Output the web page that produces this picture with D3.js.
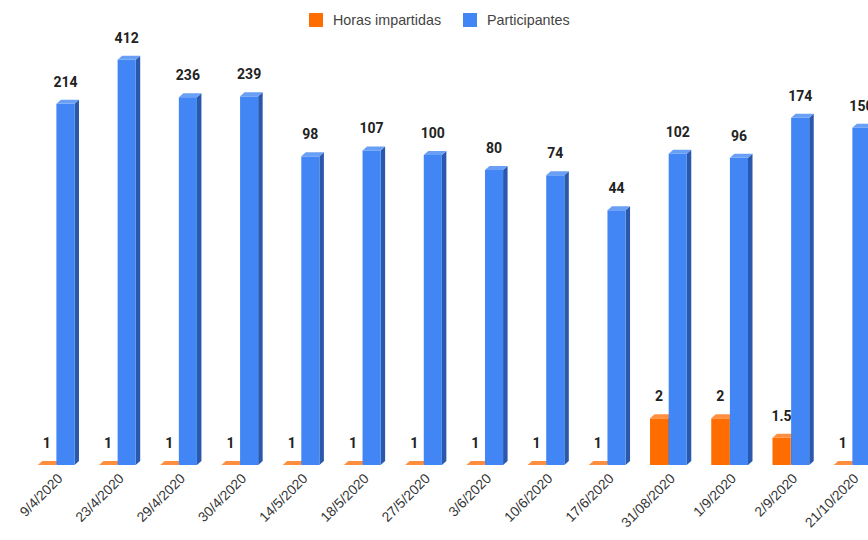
<!DOCTYPE html>
<html><head><meta charset="utf-8">
<script src="https://cdn.jsdelivr.net/npm/d3@7"></script>
<style>body{margin:0;background:#fff;}svg{display:block;}</style>
</head><body>
<svg id="c" width="868" height="540"></svg>
<script>
const categories = ["9/4/2020","23/4/2020","29/4/2020","30/4/2020","14/5/2020","18/5/2020","27/5/2020","3/6/2020","10/6/2020","17/6/2020","31/08/2020","1/9/2020","2/9/2020","21/10/2020"];
const horas = [1,1,1,1,1,1,1,1,1,1,2,2,1.5,1];
const participantes = [214,412,236,239,98,107,100,80,74,44,102,96,174,150];
const seriesNames = ["Horas impartidas","Participantes"];
const colors = {"Horas impartidas":{front:"#ff6d01",side:"#c35100",top:"#ff8f3f"},
                "Participantes":{front:"#4285f4",side:"#2a58ad",top:"#6a9ff6"}};

const svg = d3.select("#c");
const x0 = d3.scaleBand().domain(categories).range([25.5, 882.7]).paddingInner(0.4).paddingOuter(0.2);
const x1 = d3.scaleBand().domain(seriesNames).range([0, x0.bandwidth()]).paddingInner(0.03);
const y = d3.scaleLog().domain([1, 1000]).range([465, 0]);
const D = 4.5, DY = 4;

const data = [];
categories.forEach((c,i)=>{
  data.push({cat:c, s:"Horas impartidas", v:horas[i]});
  data.push({cat:c, s:"Participantes", v:participantes[i]});
});

const g = svg.append("g");
data.forEach(d=>{
  const xl = x0(d.cat) + x1(d.s), w = x1.bandwidth();
  const yt = y(d.v), yb = y(1);
  const col = colors[d.s];
  g.append("path").attr("d", `M${xl+w},${yt} L${xl+w+D},${yt-DY} L${xl+w+D},${yb-DY} L${xl+w},${yb} Z`).attr("fill", col.side);
  if (yb - yt > 0) g.append("rect").attr("x", xl).attr("y", yt).attr("width", w).attr("height", yb-yt).attr("fill", col.front);
  g.append("path").attr("d", `M${xl},${yt} L${xl+w},${yt} L${xl+w+D},${yt-DY} L${xl+D},${yt-DY} Z`).attr("fill", col.top);
  g.append("text").attr("x", xl + w/2).attr("y", yt - 17).attr("text-anchor","middle")
    .attr("font-family","Roboto, Arial, sans-serif").attr("font-weight","bold").attr("font-size",14)
    .attr("fill","#222").text(d.v);
});

const xa = svg.append("g");
categories.forEach(c=>{
  const cx = x0(c) + x0.bandwidth()/2 + 4;
  xa.append("text").attr("transform",`translate(${cx},${476}) rotate(-45)`)
    .attr("text-anchor","end").attr("font-family","Arial, 'Liberation Sans', sans-serif").attr("font-size",13.8)
    .attr("fill","#333").attr("dy","0.35em").text(c);
});

const leg = svg.append("g");
const legItems = [{n:"Horas impartidas", x:309},{n:"Participantes", x:463}];
legItems.forEach(it=>{
  leg.append("rect").attr("x", it.x).attr("y", 13).attr("width",14).attr("height",14).attr("fill", colors[it.n].front);
  leg.append("text").attr("x", it.x+24).attr("y", 20).attr("dy","0.35em").attr("font-family","Arial, 'Liberation Sans', sans-serif")
    .attr("font-size",14.3).attr("fill","#444").text(it.n);
});
</script>
</body></html>
